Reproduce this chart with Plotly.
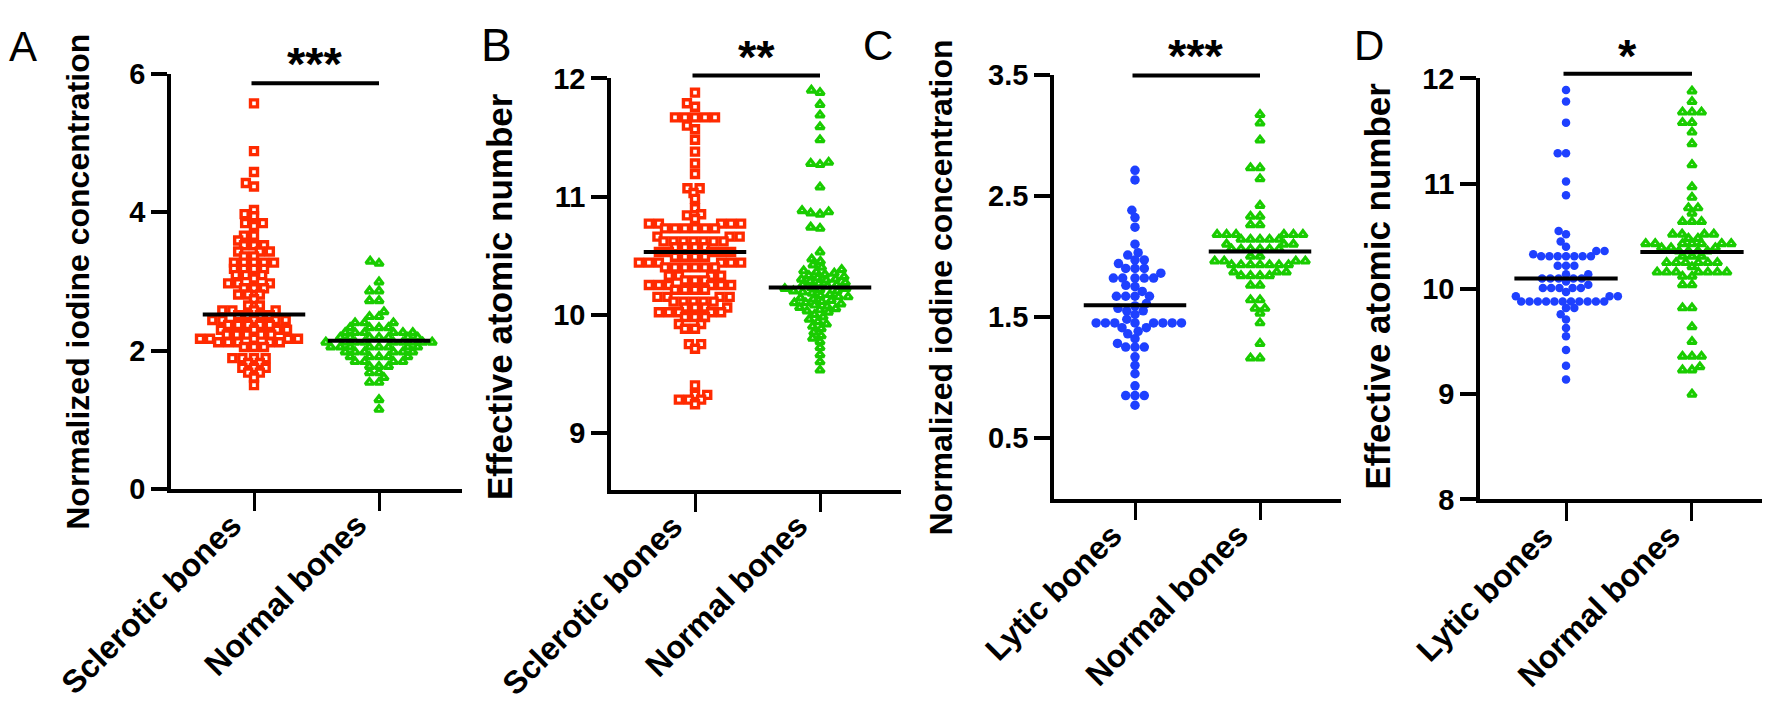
import math
import plotly.graph_objects as go

# ---------------- data ----------------
cats_AB = ["Sclerotic bones", "Normal bones"]
cats_CD = ["Lytic bones", "Normal bones"]

A_sclerotic = [5.57, 4.88, 4.58, 4.42, 4.37, 4.03, 3.97, 3.94, 3.84, 3.84, 3.80, 3.66, 3.66, 3.59,
               3.52, 3.52, 3.52, 3.43, 3.43, 3.43, 3.36, 3.36, 3.27, 3.27, 3.27, 3.27, 3.27,
               3.18, 3.18, 3.18, 3.18, 3.09, 3.09, 3.09, 3.04, 2.97, 2.97, 2.97, 2.90, 2.90, 2.90,
               2.81, 2.81, 2.81, 2.74, 2.65, 2.65, 2.58, 2.58, 2.58, 2.58, 2.51, 2.51, 2.51, 2.51,
               2.44, 2.44, 2.44, 2.44, 2.44, 2.37, 2.37, 2.37, 2.37, 2.37, 2.30, 2.30, 2.30, 2.30,
               2.23, 2.23, 2.23, 2.23, 2.23, 2.17, 2.17, 2.17, 2.17, 2.17, 2.12, 2.12, 2.12, 2.12,
               2.12, 2.05, 2.05, 2.05, 1.89, 1.89, 1.89, 1.89, 1.82, 1.82, 1.75, 1.75, 1.75, 1.68,
               1.68, 1.61, 1.50]
A_normal = [3.29, 3.26, 2.99, 2.86, 2.86, 2.72, 2.72, 2.56, 2.49, 2.49, 2.40, 2.40, 2.40,
            2.33, 2.33, 2.33, 2.33, 2.26, 2.26, 2.26, 2.26, 2.26, 2.26, 2.19, 2.19, 2.19, 2.19,
            2.19, 2.19, 2.19, 2.12, 2.12, 2.12, 2.12, 2.12, 2.12, 2.12, 2.12, 2.12, 2.05, 2.05,
            2.05, 2.05, 2.05, 2.05, 2.05, 2.05, 1.98, 1.98, 1.98, 1.98, 1.98, 1.98, 1.91, 1.91,
            1.91, 1.91, 1.91, 1.84, 1.84, 1.84, 1.84, 1.77, 1.77, 1.77, 1.68, 1.68, 1.61, 1.54,
            1.54, 1.29, 1.15]
A_centre = [2.52, 2.14]

B_sclerotic = [11.88, 11.79, 11.76, 11.67, 11.67, 11.67, 11.67, 11.67, 11.60, 11.57, 11.48,
               11.38, 11.28, 11.19, 11.07, 11.07, 11.03, 10.98, 10.90, 10.85, 10.84, 10.81,
               10.77, 10.77, 10.77, 10.77, 10.77, 10.73, 10.73, 10.73, 10.73, 10.73, 10.73,
               10.66, 10.66, 10.66, 10.62, 10.62, 10.62, 10.62, 10.62, 10.62, 10.62, 10.57,
               10.57, 10.57, 10.57, 10.53, 10.53, 10.53, 10.53, 10.53, 10.49, 10.49, 10.49,
               10.49, 10.44, 10.44, 10.44, 10.44, 10.44, 10.44, 10.40, 10.40, 10.40, 10.40,
               10.40, 10.40, 10.33, 10.33, 10.33, 10.33, 10.29, 10.29, 10.29, 10.25, 10.25,
               10.25, 10.25, 10.25, 10.25, 10.21, 10.21, 10.21, 10.21, 10.15, 10.15, 10.15,
               10.15, 10.11, 10.11, 10.11, 10.11, 10.11, 10.06, 10.06, 10.06, 10.06, 10.02,
               10.02, 10.02, 10.02, 10.02, 9.98, 9.98, 9.98, 9.92, 9.92, 9.88, 9.88, 9.75,
               9.75, 9.71, 9.40, 9.32, 9.32, 9.28, 9.28, 9.28, 9.24]
B_normal = [11.90, 11.88, 11.78, 11.69, 11.59, 11.48, 11.29, 11.28, 11.27, 11.08, 10.88,
            10.87, 10.86, 10.85, 10.74, 10.73, 10.53, 10.47, 10.45, 10.42, 10.40, 10.38,
            10.37, 10.36, 10.35, 10.34, 10.33, 10.32, 10.31, 10.30, 10.30, 10.29, 10.28,
            10.27, 10.26, 10.25, 10.25, 10.24, 10.23, 10.22, 10.22, 10.21, 10.20, 10.20,
            10.19, 10.18, 10.17, 10.16, 10.15, 10.15, 10.14, 10.13, 10.12, 10.11, 10.10,
            10.10, 10.09, 10.08, 10.07, 10.06, 10.05, 10.04, 10.03, 10.02, 10.00, 9.98,
            9.96, 9.94, 9.92, 9.90, 9.88, 9.85, 9.82, 9.80, 9.77, 9.72, 9.66, 9.60, 9.53]
B_centre = [10.53, 10.23]

C_lytic = [2.71, 2.63, 2.38, 2.32, 2.24, 2.10, 2.03, 2.01, 1.97, 1.97, 1.94, 1.90, 1.90,
           1.90, 1.86, 1.82, 1.82, 1.82, 1.82, 1.82, 1.76, 1.75, 1.71, 1.67, 1.67, 1.67,
           1.67, 1.61, 1.59, 1.57, 1.55, 1.55, 1.52, 1.48, 1.45, 1.45, 1.45, 1.45, 1.45,
           1.45, 1.45, 1.45, 1.41, 1.41, 1.38, 1.36, 1.32, 1.28, 1.25, 1.25, 1.25, 1.17,
           1.10, 1.03, 0.93, 0.85, 0.85, 0.85, 0.77]
C_normal = [3.17, 3.10, 2.96, 2.73, 2.73, 2.64, 2.42, 2.33, 2.33, 2.26, 2.26, 2.18, 2.18,
            2.18, 2.18, 2.18, 2.18, 2.14, 2.14, 2.14, 2.14, 2.14, 2.10, 2.10, 2.10, 2.06,
            2.06, 2.06, 2.06, 2.06, 2.06, 2.00, 2.00, 1.96, 1.96, 1.96, 1.96, 1.93, 1.93,
            1.93, 1.93, 1.93, 1.93, 1.93, 1.87, 1.87, 1.87, 1.84, 1.84, 1.84, 1.84, 1.76,
            1.76, 1.64, 1.64, 1.57, 1.57, 1.53, 1.45, 1.28, 1.16, 1.16]
C_centre = [1.595, 2.04]

D_lytic = [11.89, 11.78, 11.58, 11.29, 11.29, 11.02, 10.89, 10.55, 10.52, 10.45, 10.40,
           10.36, 10.36, 10.33, 10.31, 10.31, 10.31, 10.31, 10.31, 10.31, 10.31, 10.22,
           10.22, 10.22, 10.14, 10.14, 10.10, 10.10, 10.10, 10.10, 10.10, 10.07, 10.04,
           10.01, 10.01, 10.01, 10.01, 10.01, 9.97, 9.93, 9.93, 9.93, 9.88, 9.88, 9.88,
           9.88, 9.88, 9.88, 9.88, 9.88, 9.88, 9.88, 9.88, 9.82, 9.82, 9.76, 9.71, 9.63,
           9.55, 9.42, 9.27, 9.14]
D_normal = [11.88, 11.78, 11.68, 11.68, 11.68, 11.58, 11.58, 11.49, 11.38, 11.18, 10.97,
            10.87, 10.77, 10.77, 10.72, 10.64, 10.64, 10.64, 10.52, 10.52, 10.52, 10.52,
            10.48, 10.48, 10.43, 10.43, 10.43, 10.43, 10.43, 10.43, 10.43, 10.39, 10.39,
            10.39, 10.36, 10.36, 10.36, 10.36, 10.31, 10.31, 10.31, 10.25, 10.25, 10.25,
            10.25, 10.25, 10.25, 10.21, 10.16, 10.16, 10.16, 10.16, 10.16, 10.16, 10.16,
            10.12, 10.12, 10.04, 10.04, 9.82, 9.82, 9.64, 9.50, 9.36, 9.36, 9.36, 9.26,
            9.23, 9.23, 9.00]
D_centre = [10.10, 10.35]

stars = ["***", "**", "***", "*"]
letters = ["A", "B", "C", "D"]
ytitles = ["Normalized iodine concentration", "Effective atomic number",
           "Normalized iodine concentration", "Effective atomic number"]
yticks_A = [0, 2, 4, 6]
yticks_B = [9, 10, 11, 12]
yticks_C = [0.5, 1.5, 2.5, 3.5]
yticks_D = [8, 9, 10, 11, 12]

# ---------------- styling / geometry ----------------
W, H = 1770, 707
RED, GREEN, BLUE = "#FF2A00", "#19CC00", "#1E40FF"
FONT = "Liberation Sans"

panels = [
    dict(cats=cats_AB, g=[A_sclerotic, A_normal], c=A_centre, yt=yticks_A, ytt=["0", "2", "4", "6"],
         px=(163, 454), py=(52, 487), yr=(0, 6), xr=(-0.664, 1.664),
         sty=["sq", "tri"], bar_py=62, star_py=41,
         letter=(15, 24), title=(70, 270), tsize=32, lsize=42),
    dict(cats=cats_AB, g=[B_sclerotic, B_normal], c=B_centre, yt=yticks_B, ytt=["9", "10", "11", "12"],
         px=(603, 893), py=(57, 488), yr=(8.515, 12), xr=(-0.672, 1.648),
         sty=["sq", "tri"], bar_py=54, star_py=34,
         letter=(489, 22), title=(491, 285), tsize=35, lsize=46),
    dict(cats=cats_CD, g=[C_lytic, C_normal], c=C_centre, yt=yticks_C, ytt=["0.5", "1.5", "2.5", "3.5"],
         px=(1046, 1333), py=(53, 497), yr=(0, 3.5), xr=(-0.648, 1.648),
         sty=["circC", "tri"], bar_py=54, star_py=33,
         letter=(870, 22), title=(933, 276), tsize=32, lsize=42),
    dict(cats=cats_CD, g=[D_lytic, D_normal], c=D_centre, yt=yticks_D, ytt=["8", "9", "10", "11", "12"],
         px=(1472, 1767), py=(57, 498), yr=(8, 12), xr=(-0.683, 1.659),
         sty=["circD", "tri"], bar_py=52, star_py=33,
         letter=(1361, 22), title=(1370, 275), tsize=35, lsize=42),
]
CAT_SIZE = 32
STAR_SIZE = 47

marker_styles = {
    "sq": dict(symbol="square", size=7, color="white", line=dict(color=RED, width=3.4)),
    "tri": dict(symbol="triangle-up", size=7.5, color="white", line=dict(color=GREEN, width=3.2)),
    "circC": dict(symbol="circle", size=9.5, color=BLUE, line=dict(width=0)),
    "circD": dict(symbol="circle", size=8.5, color=BLUE, line=dict(width=0)),
}
# horizontal spacing (px) and vertical weighting (allows vertical overlap like GraphPad)
spacing = {"sq": 10.0, "tri": 9.5, "circC": 9.3, "circD": 8.3}
vweight = {"sq": 1.6, "tri": 1.6, "circC": 1.15, "circD": 1.15}


def swarm_offsets(vals, d, ppy, vw):
    """beeswarm: horizontal offsets in pixels for each value (same order)"""
    order = sorted(range(len(vals)), key=lambda i: vals[i])
    placed = []
    out = [0.0] * len(vals)
    tol = 1e-3 * d * d
    for i in order:
        y = vals[i] * ppy * vw
        near = [(xj, yj) for (xj, yj) in placed if abs(y - yj) < d]
        cands = [0.0]
        for xj, yj in near:
            dx = math.sqrt(max(d * d - (y - yj) ** 2, 0.0))
            cands += [xj + dx, xj - dx]
        cands.sort(key=lambda c: (round(abs(c), 4), c))
        best = cands[-1]
        for cx in cands:
            if all((cx - xj) ** 2 + (y - yj) ** 2 >= d * d - tol for xj, yj in near):
                best = cx
                break
        placed.append((best, y))
        out[i] = best
    return out


fig = go.Figure()
annotations = []
shapes = []
layout = {}

for k, p in enumerate(panels):
    n = "" if k == 0 else str(k + 1)
    xa, ya = "x" + n, "y" + n
    x0, x1 = p["px"]
    ytop, ybot = p["py"]
    ppx = (x1 - x0) / (p["xr"][1] - p["xr"][0])
    ppy = (ybot - ytop) / (p["yr"][1] - p["yr"][0])
    for gi, vals in enumerate(p["g"]):
        st = p["sty"][gi]
        offs = swarm_offsets(vals, spacing[st], ppy, vweight[st])
        fig.add_trace(go.Scatter(
            x=[gi + o / ppx for o in offs], y=vals, mode="markers",
            marker=marker_styles[st], xaxis=xa, yaxis=ya, showlegend=False,
            hoverinfo="y"))
    for gi, m in enumerate(p["c"]):
        fig.add_trace(go.Scatter(x=[gi - 0.41, gi + 0.41], y=[m, m], mode="lines",
                                 line=dict(color="black", width=4), xaxis=xa, yaxis=ya,
                                 showlegend=False, hoverinfo="skip"))
    layout["xaxis" + n] = dict(
        domain=[x0 / W, x1 / W], range=list(p["xr"]), anchor=ya,
        tickvals=[0, 1], showticklabels=False,
        showline=True, linecolor="black", linewidth=3.5, ticks="outside", ticklen=18,
        tickwidth=3, tickcolor="black", showgrid=False, zeroline=False, fixedrange=True)
    layout["yaxis" + n] = dict(
        domain=[1 - ybot / H, 1 - ytop / H], range=list(p["yr"]), anchor=xa,
        tickvals=p["yt"], ticktext=p["ytt"],
        tickfont=dict(family=FONT, size=29, color="black", weight="bold"),
        showline=True, linecolor="black", linewidth=3.5, ticks="outside", ticklen=16,
        tickwidth=3.5, tickcolor="black", showgrid=False, zeroline=False, fixedrange=True)
    # category labels (rotated 45 deg, ending just under the tick)
    for gi, cat in enumerate(p["cats"]):
        annotations.append(dict(text=cat, xref=xa, yref="paper", x=gi, xshift=-3,
                                y=1 - (ybot + 16) / H, showarrow=False, textangle=-45,
                                xanchor="right", yanchor="top",
                                font=dict(family=FONT, size=CAT_SIZE, color="black", weight="bold")))
    # significance bar
    shapes.append(dict(type="line", xref=xa, yref="paper", x0=-0.02, x1=1.0,
                       y0=1 - p["bar_py"] / H, y1=1 - p["bar_py"] / H,
                       line=dict(color="black", width=4)))
    annotations.append(dict(text=stars[k], xref=xa, yref="paper", x=0.49,
                            y=1 - p["star_py"] / H, showarrow=False, xanchor="center",
                            yanchor="middle",
                            font=dict(family=FONT, size=STAR_SIZE, color="black", weight="bold")))
    annotations.append(dict(text=letters[k], xref="paper", yref="paper",
                            x=p["letter"][0] / W, y=1 - p["letter"][1] / H, showarrow=False,
                            xanchor="center", yanchor="middle",
                            font=dict(family=FONT, size=p["lsize"], color="black")))
    annotations.append(dict(text=ytitles[k], xref="paper", yref="paper",
                            x=p["title"][0] / W, y=1 - p["title"][1] / H, showarrow=False,
                            textangle=-90, xanchor="center", yanchor="middle",
                            font=dict(family=FONT, size=p["tsize"], color="black", weight="bold")))

fig.update_layout(
    width=W, height=H, margin=dict(l=0, r=0, t=0, b=0),
    paper_bgcolor="white", plot_bgcolor="white",
    annotations=annotations, shapes=shapes, **layout)

fig.write_html("out.html", config={"displayModeBar": False})
